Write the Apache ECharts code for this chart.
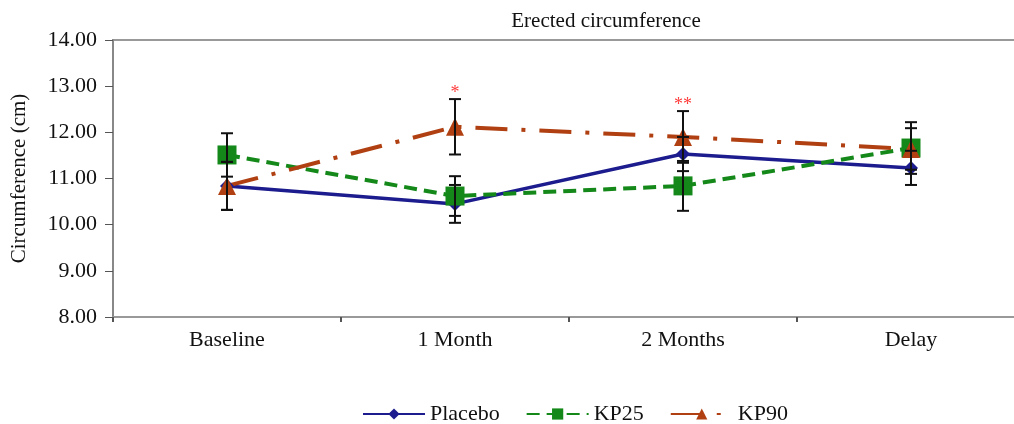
<!DOCTYPE html>
<html><head><meta charset="utf-8">
<script src="https://cdn.jsdelivr.net/npm/echarts@6/dist/echarts.min.js"></script>
<style>html,body{margin:0;padding:0;background:#fff}#c{width:1014px;height:424px}</style>
</head><body><div id="c"></div>
<script>
const categories = ['Baseline', '1 Month', '2 Months', 'Delay'];
const placebo = [10.84, 10.45, 11.53, 11.23];
const placeboErr = [0.52, 0.41, 0.37, 0.37];
const kp25 = [11.51, 10.62, 10.84, 11.66];
const kp25Err = [0.47, 0.43, 0.54, 0.56];
const kp90 = [10.84, 12.12, 11.90, 11.64];
const kp90Err = [0.52, 0.60, 0.56, 0.45];
const kp90Stars = ['', '*', '**', ''];

const FONT = '"Liberation Serif", "Times New Roman", serif';
const cPlacebo = '#1c1c8e', cKP25 = '#14891a', cKP90 = '#b04012';

function errData(vals, errs, stars) {
  return vals.map((v, i) => [i, v - errs[i], v + errs[i], stars ? stars[i] : '']);
}
function renderErr(params, api) {
  const x = api.coord([api.value(0), api.value(1)])[0];
  const lo = api.coord([api.value(0), api.value(1)])[1];
  const hi = api.coord([api.value(0), api.value(2)])[1];
  const w = 6;
  const st = { stroke: '#111', lineWidth: 2 };
  const children = [
    { type: 'line', shape: { x1: x, y1: lo, x2: x, y2: hi }, style: st },
    { type: 'line', shape: { x1: x - w, y1: lo, x2: x + w, y2: lo }, style: st },
    { type: 'line', shape: { x1: x - w, y1: hi, x2: x + w, y2: hi }, style: st }
  ];
  const s = api.value(3);
  if (s) children.push({ type: 'text', style: { text: s, x: x, y: hi + 3, align: 'center', verticalAlign: 'bottom', fill: '#ff3b3b', font: '18px ' + FONT } });
  return { type: 'group', children };
}

const chart = echarts.init(document.getElementById('c'));
chart.setOption({
  animation: false,
  title: { text: 'Erected circumference', left: 601, textAlign: 'center', top: 6,
    textStyle: { fontFamily: FONT, fontWeight: 'normal', fontSize: 21, color: '#111' } },
  grid: { left: 113, width: 912, top: 40, height: 277, outerBoundsMode: 'none', containLabel: false,
    show: true, borderColor: '#999', borderWidth: 2 },
  legend: { left: 357, top: 398, itemWidth: 62, itemHeight: 14, itemGap: 26,
    data: ['Placebo', 'KP25', 'KP90'],
    textStyle: { fontFamily: FONT, fontSize: 22, color: '#111' } },
  xAxis: { type: 'category', data: categories, boundaryGap: true,
    axisLine: { lineStyle: { color: '#999', width: 2 } },
    axisTick: { show: true, length: 5, lineStyle: { color: '#555', width: 2 } },
    axisLabel: { fontFamily: FONT, fontSize: 22, color: '#111', margin: 12 } },
  yAxis: { type: 'value', min: 8, max: 14, interval: 1,
    name: 'Circumference (cm)', nameLocation: 'middle', nameGap: 83, nameRotate: 90,
    nameTextStyle: { fontFamily: FONT, fontSize: 21, color: '#111' },
    splitLine: { show: false },
    axisLine: { show: true, lineStyle: { color: '#888', width: 2 } },
    axisTick: { show: true, length: 8, lineStyle: { color: '#555', width: 1 } },
    axisLabel: { fontFamily: FONT, fontSize: 22, color: '#111', margin: 16, formatter: v => v.toFixed(2) } },
  series: [
    { name: 'Placebo', type: 'line', data: placebo, color: cPlacebo, symbol: 'diamond', symbolSize: 14,
      lineStyle: { width: 3.5, color: cPlacebo }, itemStyle: { color: cPlacebo }, z: 3 },
    { name: 'KP25', type: 'line', data: kp25, color: cKP25, symbol: 'rect', symbolSize: 19,
      lineStyle: { width: 4, color: cKP25, type: [13, 7] }, itemStyle: { color: cKP25 }, z: 3 },
    { name: 'KP90', type: 'line', data: kp90, color: cKP90, symbol: 'triangle', symbolSize: 18,
      lineStyle: { width: 4, color: cKP90, type: [32, 14, 4, 14] }, itemStyle: { color: cKP90 }, z: 3 },
    { type: 'custom', renderItem: renderErr, data: errData(placebo, placeboErr), z: 4, encode: { x: 0, y: [1, 2] } },
    { type: 'custom', renderItem: renderErr, data: errData(kp25, kp25Err), z: 4, encode: { x: 0, y: [1, 2] } },
    { type: 'custom', renderItem: renderErr, data: errData(kp90, kp90Err, kp90Stars), z: 4, encode: { x: 0, y: [1, 2] } }
  ]
});
</script></body></html>
